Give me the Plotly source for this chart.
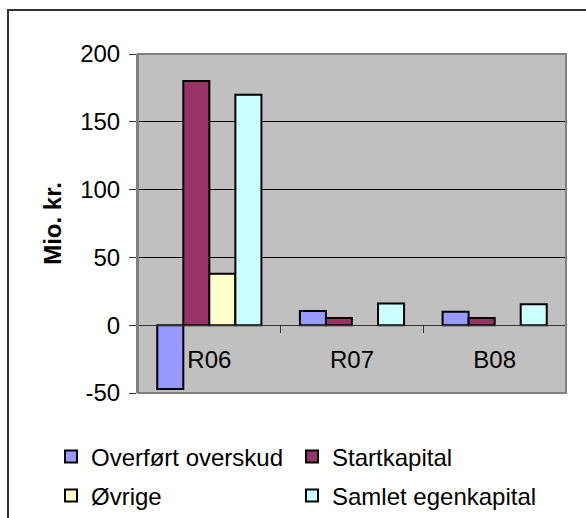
import plotly.graph_objects as go

categories = ["R06", "R07", "B08"]
overfort = [-47, 10.5, 10]
startkapital = [180, 5.4, 5.4]
ovrige = [38, None, None]
samlet = [170, 16, 15.5]

series_names = ["Overført overskud", "Startkapital", "Øvrige", "Samlet egenkapital"]
series_values = [overfort, startkapital, ovrige, samlet]
series_colors = ["#9999FF", "#993366", "#FFFFCC", "#CCFFFF"]
series_legend = ["legend", "legend2", "legend3", "legend4"]

y_ticks = [-50, 0, 50, 100, 150, 200]
y_tick_labels = ["-50", "0", "50", "100", "150", "200"]

FONT = "Liberation Sans, Arial, sans-serif"
FS = 24

W, H = 586, 518
ML, MR, MT, MB = 138, 20, 54, 125
pw = W - ML - MR
ph = H - MT - MB

fig = go.Figure()
for name, vals, col, lg in zip(series_names, series_values, series_colors, series_legend):
    fig.add_trace(go.Bar(
        x=categories, y=vals, name=name, legend=lg,
        marker=dict(color=col, line=dict(color="black", width=2)),
    ))

def px_x(p):
    return (p - ML) / pw

def px_y(p):
    return (H - MB - p) / ph

def legend_at(xpx, ypx):
    return dict(
        x=px_x(xpx), y=px_y(ypx),
        orientation="h",
        xanchor="left", yanchor="middle",
        font=dict(family=FONT, size=FS, color="black"),
        bgcolor="rgba(0,0,0,0)",
    )

fig.update_layout(
    width=W, height=H,
    margin=dict(l=ML, r=MR, t=MT, b=MB, autoexpand=False),
    paper_bgcolor="white",
    plot_bgcolor="#C0C0C0",
    barmode="group",
    bargap=0.27,
    bargroupgap=0,
    font=dict(family=FONT, size=FS, color="black"),
    showlegend=True,
    legend=legend_at(51, 457),
    legend2=legend_at(292, 457),
    legend3=legend_at(51, 496),
    legend4=legend_at(292, 496),
    xaxis=dict(
        type="category",
        anchor="free",
        position=(0 - y_ticks[0]) / (y_ticks[-1] - y_ticks[0]),
        showline=True, linecolor="#333333", linewidth=1,
        ticks="outside", tickson="boundaries", ticklen=7,
        tickcolor="#333333", tickwidth=1,
        showgrid=False,
        ticklabelstandoff=13,
        tickfont=dict(family=FONT, size=FS, color="black"),
    ),
    yaxis=dict(
        range=[y_ticks[0], y_ticks[-1]],
        tickvals=y_ticks, ticktext=y_tick_labels,
        ticks="outside", ticklen=7, tickcolor="#333333", tickwidth=1,
        ticklabelstandoff=4,
        showline=True, linecolor="#808080", linewidth=2,
        showgrid=True, gridcolor="black", gridwidth=1,
        zeroline=True, zerolinecolor="#333333", zerolinewidth=1,
        tickfont=dict(family=FONT, size=FS, color="black"),
        title=dict(text="<b>Mio. kr.</b>", standoff=12,
                   font=dict(family=FONT, size=FS, color="black")),
    ),
    shapes=[
        dict(type="rect", xref="paper", yref="paper", x0=0, x1=1, y0=0, y1=1,
             line=dict(color="#808080", width=2), layer="above"),
        dict(type="rect", xref="paper", yref="paper",
             x0=px_x(8), x1=px_x(640), y0=px_y(570), y1=px_y(10),
             line=dict(color="#333333", width=2), layer="above"),
    ],
)

fig.write_html("out.html", config={"displayModeBar": False},
               post_script="document.body.style.margin='0';")
